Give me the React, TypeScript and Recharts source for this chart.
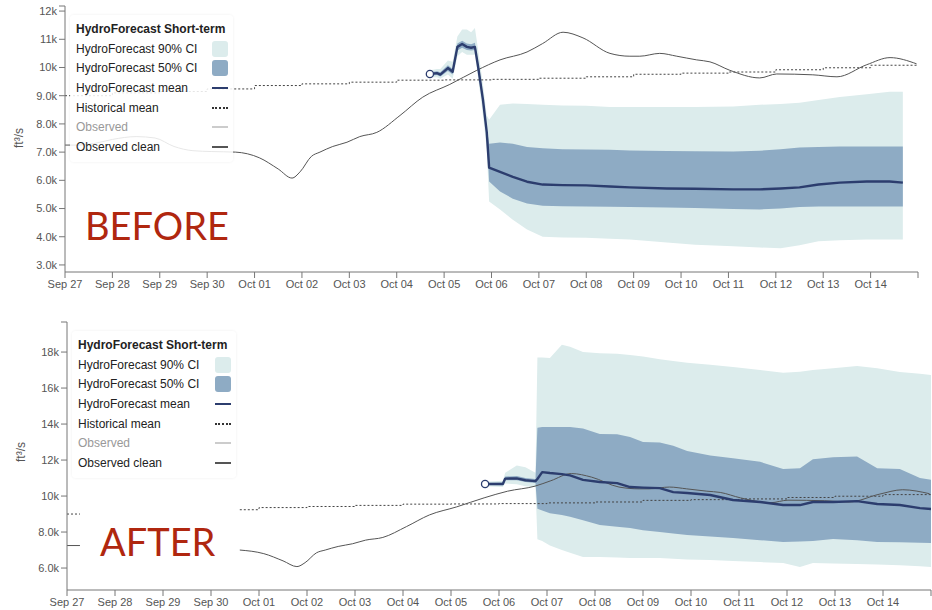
import { Area, ComposedChart, Line, XAxis, YAxis } from 'recharts';

// x positions are days since Sep 27; flows are in thousands of ft³/s
const dayLabels = [
  'Sep 27', 'Sep 28', 'Sep 29', 'Sep 30', 'Oct 01', 'Oct 02', 'Oct 03', 'Oct 04', 'Oct 05',
  'Oct 06', 'Oct 07', 'Oct 08', 'Oct 09', 'Oct 10', 'Oct 11', 'Oct 12', 'Oct 13', 'Oct 14', '',
];
const dayTicks = dayLabels.map((_, i) => i);

// Historical mean, one value per day
const histVals = [9.0, 9.1, 9.15, 9.24, 9.36, 9.42, 9.48, 9.55, 9.56, 9.58, 9.62, 9.67, 9.76, 9.8, 9.84, 9.92, 9.99, 10.08, 10.08];

// Observed clean: head, the stretch that goes missing in the newer feed, and tail
const obsHeadT = [0, 0.27];
const obsHeadV = [7.25, 7.25];
const obsGapT = [0.6, 1.0, 1.5, 1.9, 2.3, 2.7, 3.1];
const obsGapV = [7.3, 7.45, 7.55, 7.5, 7.2, 7.05, 7.02];
const obsTailT = [3.6, 4.1, 4.5, 4.79, 4.96, 5.2, 5.38, 5.65, 5.95, 6.22, 6.58, 7.07, 7.55, 8.12, 8.69, 9.18, 9.75, 10.08, 10.51, 10.93, 11.5, 11.92, 12.13, 12.55, 12.91, 13.33, 13.61, 14.03, 14.66, 15.02, 15.78, 16.29, 16.92, 17.41, 17.97];
const obsTailV = [7.0, 6.8, 6.4, 6.08, 6.3, 6.85, 7.0, 7.2, 7.35, 7.55, 7.7, 8.3, 8.95, 9.4, 9.9, 10.27, 10.55, 10.85, 11.25, 11.05, 10.5, 10.4, 10.4, 10.5, 10.4, 10.27, 10.2, 9.9, 9.63, 9.77, 9.74, 9.67, 10.1, 10.35, 10.13];
const gapStart = 0.3;
const gapEnd = 3.6;

// Short-term forecast, old model
const beforeT = [7.7, 7.85, 7.92, 8.08, 8.18, 8.28, 8.38, 8.48, 8.57, 8.65, 8.72, 8.82, 8.9, 8.95, 9.18, 9.45, 9.75, 10.08, 10.5, 11.0, 11.5, 11.92, 12.7, 13.3, 14.1, 14.66, 15.1, 15.5, 15.9, 16.35, 16.92, 17.4, 17.68];
const beforeMean = [9.77, 9.8, 9.75, 9.98, 9.85, 10.73, 10.83, 10.73, 10.7, 10.73, 10.0, 8.85, 7.7, 6.45, 6.3, 6.12, 5.95, 5.85, 5.83, 5.82, 5.78, 5.75, 5.71, 5.7, 5.68, 5.68, 5.71, 5.75, 5.85, 5.92, 5.96, 5.96, 5.92];
const beforeLo90 = [9.65, 9.65, 9.6, 9.75, 9.6, 10.4, 10.55, 10.45, 10.45, 10.45, 9.6, 8.3, 7.1, 5.25, 4.97, 4.6, 4.26, 4.0, 3.97, 3.96, 3.93, 3.9, 3.8, 3.72, 3.66, 3.62, 3.59, 3.7, 3.84, 3.88, 3.9, 3.9, 3.9];
const beforeLo50 = [9.71, 9.73, 9.68, 9.88, 9.75, 10.6, 10.7, 10.62, 10.6, 10.62, 9.85, 8.7, 7.55, 5.96, 5.6, 5.35, 5.18, 5.1, 5.08, 5.07, 5.06, 5.05, 5.04, 5.02, 4.98, 4.97, 5.0, 5.05, 5.07, 5.07, 5.07, 5.07, 5.07];
const beforeHi50 = [9.83, 9.87, 9.83, 10.08, 9.95, 10.85, 10.95, 10.85, 10.82, 10.88, 10.15, 9.0, 7.85, 7.3, 7.34, 7.3, 7.18, 7.14, 7.1, 7.09, 7.08, 7.06, 7.04, 7.03, 7.02, 7.05, 7.1, 7.16, 7.18, 7.2, 7.2, 7.2, 7.2];
const beforeHi90 = [9.9, 9.95, 9.95, 10.25, 10.2, 11.1, 11.35, 11.35, 11.25, 11.4, 10.6, 9.4, 8.3, 8.15, 8.68, 8.72, 8.71, 8.68, 8.65, 8.64, 8.6, 8.6, 8.6, 8.6, 8.62, 8.68, 8.71, 8.75, 8.85, 8.95, 9.05, 9.14, 9.14];

// Short-term forecast, new model
const afterT = [8.71, 9.08, 9.13, 9.37, 9.55, 9.76, 9.8, 9.9, 10.06, 10.31, 10.48, 10.75, 11.1, 11.46, 11.73, 12.0, 12.35, 12.63, 12.92, 13.4, 13.875, 14.44, 14.92, 15.27, 15.54, 15.96, 16.46, 16.88, 17.35, 17.77, 18.0];
const afterMean = [10.67, 10.67, 10.97, 10.98, 10.88, 10.83, 10.95, 11.33, 11.28, 11.22, 11.15, 10.9, 10.78, 10.72, 10.5, 10.47, 10.44, 10.22, 10.17, 10.06, 9.78, 9.67, 9.5, 9.5, 9.67, 9.67, 9.72, 9.56, 9.5, 9.33, 9.28];
const afterLo90 = [10.55, 10.5, 10.7, 10.65, 10.55, 10.5, 7.6, 7.5, 7.25, 7.0, 6.85, 6.61, 6.61, 6.58, 6.56, 6.56, 6.56, 6.52, 6.48, 6.44, 6.39, 6.33, 6.28, 6.06, 6.28, 6.25, 6.22, 6.2, 6.15, 6.1, 6.06];
const afterLo50 = [10.62, 10.6, 10.88, 10.88, 10.78, 10.72, 9.3, 9.2, 9.05, 8.95, 8.85, 8.65, 8.39, 8.3, 8.22, 8.1, 8.0, 7.92, 7.83, 7.75, 7.67, 7.55, 7.44, 7.47, 7.5, 7.61, 7.55, 7.45, 7.43, 7.4, 7.39];
const afterHi50 = [10.72, 10.75, 11.08, 11.12, 11.0, 10.95, 13.8, 13.83, 13.83, 13.83, 13.83, 13.75, 13.45, 13.44, 13.28, 13.0, 12.97, 12.8, 12.5, 12.25, 12.1, 11.9, 11.5, 11.55, 12.05, 12.15, 12.2, 11.55, 11.5, 11.0, 10.9];
const afterHi90 = [10.8, 10.85, 11.3, 11.7, 11.6, 11.3, 17.7, 17.7, 17.67, 18.4, 18.3, 18.0, 17.94, 17.9, 17.83, 17.75, 17.6, 17.5, 17.4, 17.3, 17.17, 17.0, 16.85, 16.9, 17.0, 17.1, 17.22, 17.1, 16.89, 16.8, 16.72];

const FONT = '"Liberation Sans", Arial, Helvetica, sans-serif';
const C90 = '#dcecec';
const C50 = '#8eabc4';
const MEAN = '#2c3d6e';
const OBS = '#555';
const AXIS = '#777';

type Pt = { t: number; v: number | null };
type Band = { t: number; mean: number; lo90: number; lo50: number; hi50: number; hi90: number };

const zip = (ts: number[], vs: number[]): Pt[] => ts.map((t, i) => ({ t, v: vs[i] }));

const bandRows = (t: number[], mean: number[], lo90: number[], lo50: number[], hi50: number[], hi90: number[]): Band[] =>
  t.map((x, i) => ({ t: x, mean: mean[i], lo90: lo90[i], lo50: lo50[i], hi50: hi50[i], hi90: hi90[i] }));

const histFull: Pt[] = histVals.map((v, i) => ({ t: i, v }));
const histGapped: Pt[] = [
  { t: 0, v: histVals[0] },
  { t: obsHeadT[1], v: histVals[0] },
  { t: gapStart, v: null },
  { t: gapEnd, v: histVals[3] },
  ...histVals.map((v, i) => ({ t: i, v })).filter((p) => p.t > gapEnd),
];
const obsFull: Pt[] = [...zip(obsHeadT, obsHeadV), ...zip(obsGapT, obsGapV), ...zip(obsTailT, obsTailV)];
const obsGapped: Pt[] = [...zip(obsHeadT, obsHeadV), { t: gapStart, v: null }, ...zip(obsTailT, obsTailV)];

const beforeRows = bandRows(beforeT, beforeMean, beforeLo90, beforeLo50, beforeHi50, beforeHi90);
const afterRows = bandRows(afterT, afterMean, afterLo90, afterLo50, afterHi50, afterHi90);

const fmtK = (v: number) => (Number.isInteger(v) ? (v >= 10 ? `${v}k` : `${v.toFixed(1)}k`) : '');

const startDot = (p: any) =>
  p.index === 0 ? (
    <circle key="start" cx={p.cx} cy={p.cy} r={3.6} fill="#fff" stroke={MEAN} strokeWidth={1.3} />
  ) : (
    <g key={`d${p.index}`} />
  );

interface PanelProps {
  top: number;
  height: number;
  margin: { top: number; right: number; bottom: number; left: number };
  yWidth: number;
  domain: [number, number];
  yTicks: number[];
  hist: Pt[];
  obs: Pt[];
  rows: Band[];
}

function Panel({ top, height, margin, yWidth, domain, yTicks, hist, obs, rows }: PanelProps) {
  const tick = { fill: '#555', fontSize: 11, fontFamily: FONT };
  return (
    <div style={{ position: 'absolute', left: 0, top }}>
      <ComposedChart width={932} height={height} margin={margin}>
        <XAxis
          type="number"
          dataKey="t"
          domain={[0, 18]}
          ticks={dayTicks}
          tickFormatter={(v: number) => dayLabels[v] ?? ''}
          interval={0}
          allowDataOverflow
          height={20}
          stroke={AXIS}
          tick={tick}
          tickSize={6}
        />
        <YAxis
          type="number"
          domain={domain}
          ticks={yTicks}
          tickFormatter={fmtK}
          allowDataOverflow
          interval={0}
          width={yWidth}
          stroke={AXIS}
          tick={tick}
          tickSize={6}
        />
        <Area
          data={rows}
          dataKey={(d: Band) => [d.lo90, d.hi90]}
          type="linear"
          stroke="none"
          fill={C90}
          fillOpacity={1}
          isAnimationActive={false}
        />
        <Area
          data={rows}
          dataKey={(d: Band) => [d.lo50, d.hi50]}
          type="linear"
          stroke="none"
          fill={C50}
          fillOpacity={1}
          isAnimationActive={false}
        />
        <Line
          data={hist}
          dataKey="v"
          type="stepAfter"
          stroke="#444"
          strokeWidth={1}
          strokeDasharray="2 2"
          dot={false}
          isAnimationActive={false}
        />
        <Line
          data={obs}
          dataKey="v"
          type="monotone"
          stroke={OBS}
          strokeWidth={1}
          dot={false}
          isAnimationActive={false}
        />
        <Line
          data={rows}
          dataKey="mean"
          type="linear"
          stroke={MEAN}
          strokeWidth={2.4}
          strokeLinejoin="round"
          dot={startDot}
          isAnimationActive={false}
        />
      </ComposedChart>
    </div>
  );
}

const legendRows = [
  { label: 'HydroForecast 90% CI', kind: 'box', color: C90 },
  { label: 'HydroForecast 50% CI', kind: 'box', color: C50 },
  { label: 'HydroForecast mean', kind: 'line', color: MEAN },
  { label: 'Historical mean', kind: 'dots', color: '#333' },
  { label: 'Observed', kind: 'line', color: '#ccc' },
  { label: 'Observed clean', kind: 'line', color: OBS },
];

function Legend({ left, top, width }: { left: number; top: number; width: number }) {
  return (
    <div
      style={{
        position: 'absolute',
        left,
        top,
        width,
        height: 147,
        background: 'rgba(255,255,255,0.86)',
        borderRadius: 4,
        boxShadow: '0 0 3px rgba(0,0,0,0.07)',
        fontFamily: FONT,
        fontSize: 12,
        color: '#222',
      }}
    >
      <div style={{ position: 'absolute', left: 6, top: 6, fontWeight: 'bold', lineHeight: '16px' }}>
        HydroForecast Short-term
      </div>
      {legendRows.map((r, i) => {
        const cy = 33.5 + i * 19.7;
        return (
          <div key={r.label}>
            <div
              style={{
                position: 'absolute',
                left: 6,
                top: cy - 8,
                lineHeight: '16px',
                color: r.label === 'Observed' ? '#999' : '#222',
              }}
            >
              {r.label}
            </div>
            {r.kind === 'box' && (
              <div
                style={{
                  position: 'absolute',
                  left: width - 21,
                  top: cy - 8,
                  width: 16,
                  height: 16,
                  borderRadius: 3,
                  background: r.color,
                }}
              />
            )}
            {r.kind === 'line' && (
              <div
                style={{ position: 'absolute', left: width - 21, top: cy - 1, width: 16, height: 2, background: r.color }}
              />
            )}
            {r.kind === 'dots' && (
              <div
                style={{
                  position: 'absolute',
                  left: width - 21,
                  top: cy - 1,
                  width: 16,
                  height: 0,
                  borderTop: `2px dotted ${r.color}`,
                }}
              />
            )}
          </div>
        );
      })}
    </div>
  );
}

export default function App() {
  return (
    <div style={{ position: 'absolute', left: 0, top: 0, width: 932, height: 610, background: '#fff', overflow: 'hidden' }}>
      <Panel
        top={0}
        height={300}
        margin={{ top: 6, right: 14, bottom: 8, left: 5 }}
        yWidth={60}
        domain={[2.75, 12.18]}
        yTicks={[3, 4, 5, 6, 7, 8, 9, 10, 11, 12, 12.18]}
        hist={histFull}
        obs={obsFull}
        rows={beforeRows}
      />
      <Panel
        top={300}
        height={310}
        margin={{ top: 22, right: 1, bottom: 0, left: 5 }}
        yWidth={62}
        domain={[4.78, 19.67]}
        yTicks={[6, 8, 10, 12, 14, 16, 18, 19.67]}
        hist={histGapped}
        obs={obsGapped}
        rows={afterRows}
      />
      <Legend left={70} top={15} width={163} />
      <Legend left={72} top={331} width={164} />
      <svg width={932} height={610} style={{ position: 'absolute', left: 0, top: 0, pointerEvents: 'none' }}>
        <text x={85} y={240} fontFamily="Lato, sans-serif" fontSize={38} fill="#b0270f">
          BEFORE
        </text>
        <text x={100} y={556} fontFamily="Lato, sans-serif" fontSize={38} fill="#b0270f">
          AFTER
        </text>
        <text
          x={0}
          y={0}
          transform="translate(23,138) rotate(-90)"
          textAnchor="middle"
          fontFamily={FONT}
          fontSize={12}
          fill="#555"
        >
          ft³/s
        </text>
        <text
          x={0}
          y={0}
          transform="translate(25,452) rotate(-90)"
          textAnchor="middle"
          fontFamily={FONT}
          fontSize={12}
          fill="#555"
        >
          ft³/s
        </text>
      </svg>
    </div>
  );
}
